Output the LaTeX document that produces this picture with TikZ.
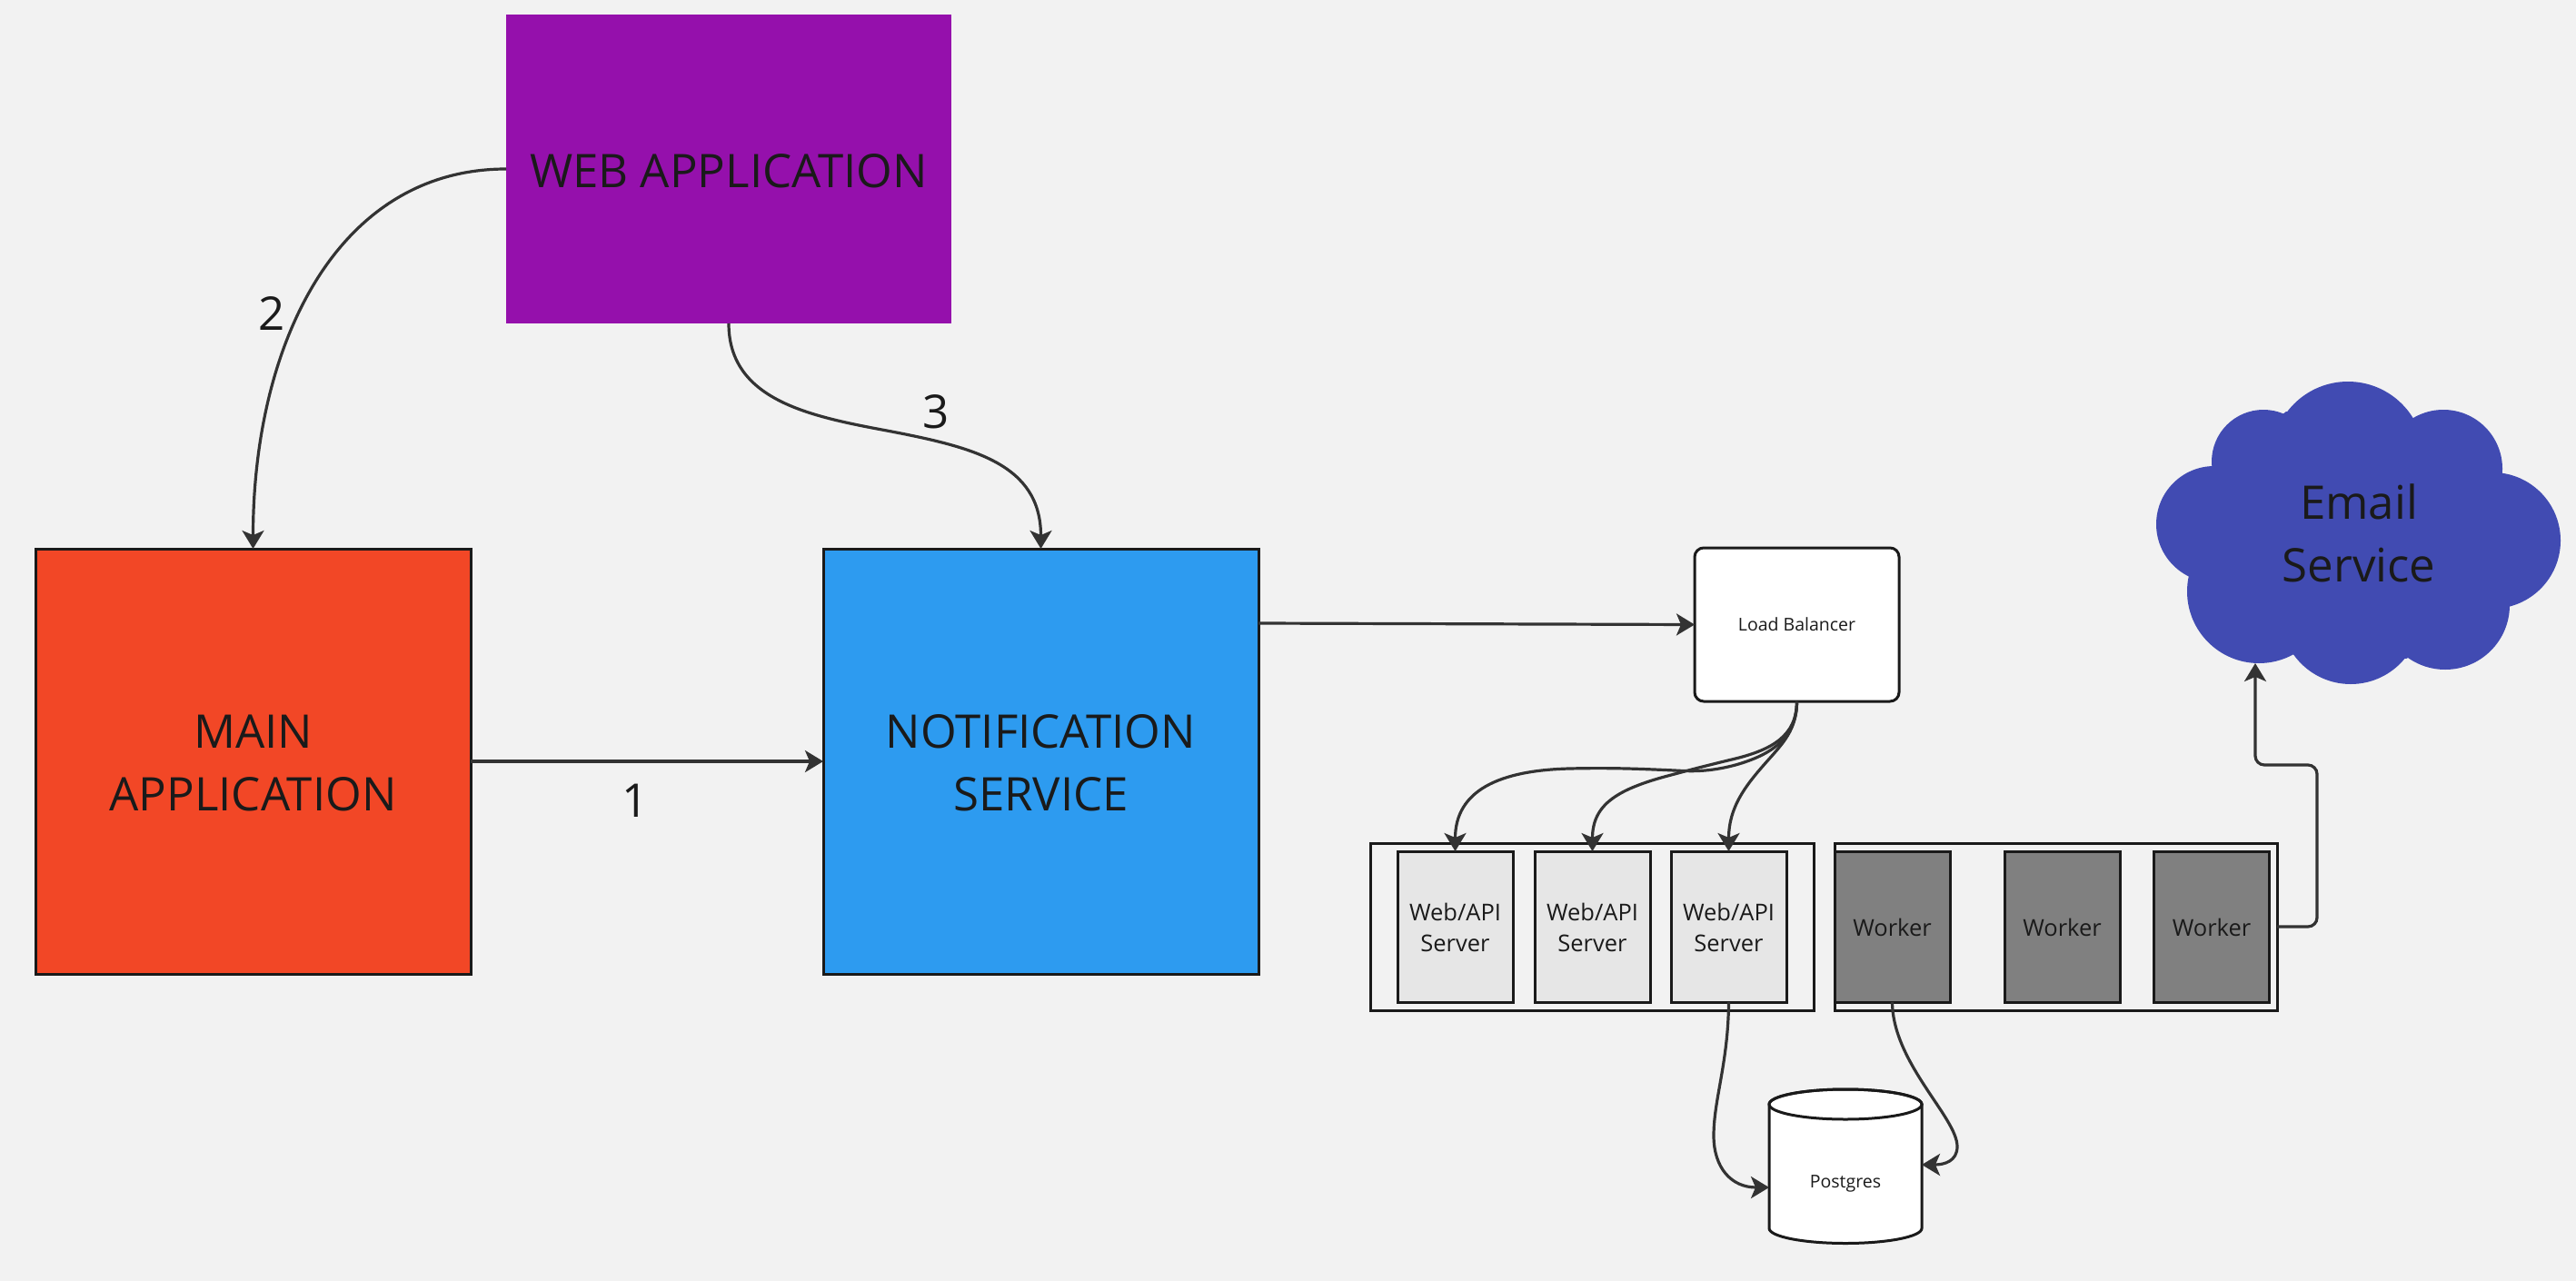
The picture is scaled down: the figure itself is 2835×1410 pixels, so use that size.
\documentclass[tikz,border=0pt]{standalone}
\usepackage{fontspec}
\setmainfont{Open Sans}
\usetikzlibrary{arrows.meta,calc}
\definecolor{bgc}{HTML}{F2F2F2}
\definecolor{ink}{HTML}{1A1A1A}
\definecolor{wire}{HTML}{333333}
\definecolor{webc}{HTML}{9510AC}
\definecolor{mainc}{HTML}{F24726}
\definecolor{notifc}{HTML}{2D9BF0}
\definecolor{cloudc}{HTML}{414BB2}
\definecolor{srvc}{HTML}{E6E6E6}
\definecolor{wrkc}{HTML}{808080}
\newcommand{\dn}[1]{\raisebox{-2pt}[\height][\depth]{#1}}
\newcommand{\dm}[1]{\raisebox{-0.5pt}[\height][\depth]{#1}}
\tikzset{
  box/.style={rectangle,outer sep=0pt,inner sep=0pt,align=center,text=ink,line width=3pt,draw=ink},
  bigtext/.style={font=\fontsize{51}{69}\selectfont},
  midtext/.style={font=\fontsize{25.5}{34}\selectfont},
  smalltext/.style={font=\fontsize{19.5}{26}\selectfont},
  srv/.style={box,midtext,fill=srvc,minimum width=127pt,minimum height=166pt},
  wrk/.style={box,midtext,fill=wrkc,minimum width=127pt,minimum height=166pt},
  grp/.style={box,minimum width=488pt,minimum height=184pt},
  conn/.style={draw=wire,line width=3.2pt,-{Stealth[length=20pt,width=24pt,inset=5pt]}},
  lbl/.style={text=ink,bigtext,inner sep=0pt}
}
\begin{document}
\begin{tikzpicture}[x=1pt,y=-1pt]
\path[fill=bgc,use as bounding box] (0,0) rectangle (2835,1410);
% cloud
\fill[cloudc] (2584,504) circle[radius=84pt] (2689,516) circle[radius=65pt]
  (2743,595) circle[radius=75pt] (2691,666) circle[radius=71pt]
  (2587,676) circle[radius=77pt] (2486,651) circle[radius=79pt]
  (2437,577) circle[radius=64pt] (2491,508) circle[radius=57pt];
\fill[cloudc] (2516,453) -- (2652,459) -- (2754,521) -- (2762,667) -- (2648,725) -- (2525,721) -- (2413,629) -- (2434,516) -- cycle;
\node[lbl,align=center] (email) at (2596,587) {Email\\Service};
\coordinate (emailin) at (2482,730);
% big boxes
\node[box,bigtext,draw=none,fill=webc,minimum width=490pt,minimum height=340pt] (web) at (802,186) {\dn{WEB APPLICATION}};
\node[box,bigtext,fill=mainc,minimum width=479pt,minimum height=468pt] (main) at (278.5,838) {\dn{MAIN}\\\dn{APPLICATION}};
\node[box,bigtext,fill=notifc,minimum width=479pt,minimum height=468pt] (notif) at (1145.5,838) {\dn{NOTIFICATION}\\\dn{SERVICE}};
\node[box,smalltext,fill=white,rounded corners=10pt,minimum width=225pt,minimum height=169pt] (lb) at (1977.5,687.5) {Load Balancer};
% groups
\node[grp] (g1) at (1752,1020) {};
\node[grp,minimum width=487pt] (g2) at (2262.5,1020) {};
\node[srv] (s1) at (1601.5,1020) {\dm{Web/API}\\\dm{Server}};
\node[srv] (s2) at (1752.5,1020) {\dm{Web/API}\\\dm{Server}};
\node[srv] (s3) at (1902.5,1020) {\dm{Web/API}\\\dm{Server}};
\node[wrk] (w1) at (2082.5,1020) {\dm{Worker}};
\node[wrk] (w2) at (2269.5,1020) {\dm{Worker}};
\node[wrk] (w3) at (2434,1020) {\dm{Worker}};
% postgres
\path[fill=white,draw=ink,line width=3pt] (1947,1215.5) -- (1947,1352) arc[start angle=180,end angle=360,x radius=84pt,y radius=16.5pt] -- (2115,1215.5) arc[start angle=0,end angle=180,x radius=84pt,y radius=16.5pt] -- cycle;
\draw[ink,line width=3pt] (2031,1215.5) ellipse[x radius=84pt,y radius=16.5pt];
\node[smalltext,text=ink,inner sep=0pt,outer sep=0pt,minimum width=168pt] (pg) at (2031,1303) {Postgres};
% connectors
\draw[conn] (web.west) .. controls (370,186) and (278.5,380) .. (main.north);
\draw[conn] (web.south) .. controls (802,440) and (890,458) .. (976,474) .. controls (1070,492) and (1145.5,510) .. (notif.north);
\draw[conn] (main.east) -- (notif.west);
\draw[conn] ([yshift=152pt]notif.east) -- (lb.west);
\draw[conn] (lb.south) .. controls (1977.5,815) and (1945,832) .. (1910,842) .. controls (1880,850) and (1860,849) .. (1843,848) .. controls (1800,846) and (1770,845) .. (1727,846) .. controls (1650,848) and (1601.5,870) .. (s1.north);
\draw[conn] (lb.south) .. controls (1977.5,810) and (1950,825) .. (1910,835) .. controls (1885,841) and (1865,846) .. (1843,852) .. controls (1780,868) and (1752.5,885) .. (s2.north);
\draw[conn] (lb.south) .. controls (1977.5,800) and (1965,815) .. (1950,832) .. controls (1925,860) and (1902.5,885) .. (s3.north);
\draw[conn] (s3.south) .. controls (1902,1170) and (1886,1210) .. (1886,1250) .. controls (1886,1285) and (1905,1307) .. ([yshift=-4pt]pg.west);
\draw[conn] (w1.south) .. controls (2083,1170) and (2154,1230) .. (2154,1262) .. controls (2154,1278) and (2140,1282) .. ([yshift=21pt]pg.east);
\draw[conn,rounded corners=10pt] (g2.east) -- (2550,1020) -- (2550,842) -- (2482,842) -- (emailin);
% labels
\node[lbl] (n1) at (699,881) {1};
\node[lbl] (n2) at (299,345) {2};
\node[lbl] (n3) at (1030,453) {3};
\end{tikzpicture}
\end{document}
